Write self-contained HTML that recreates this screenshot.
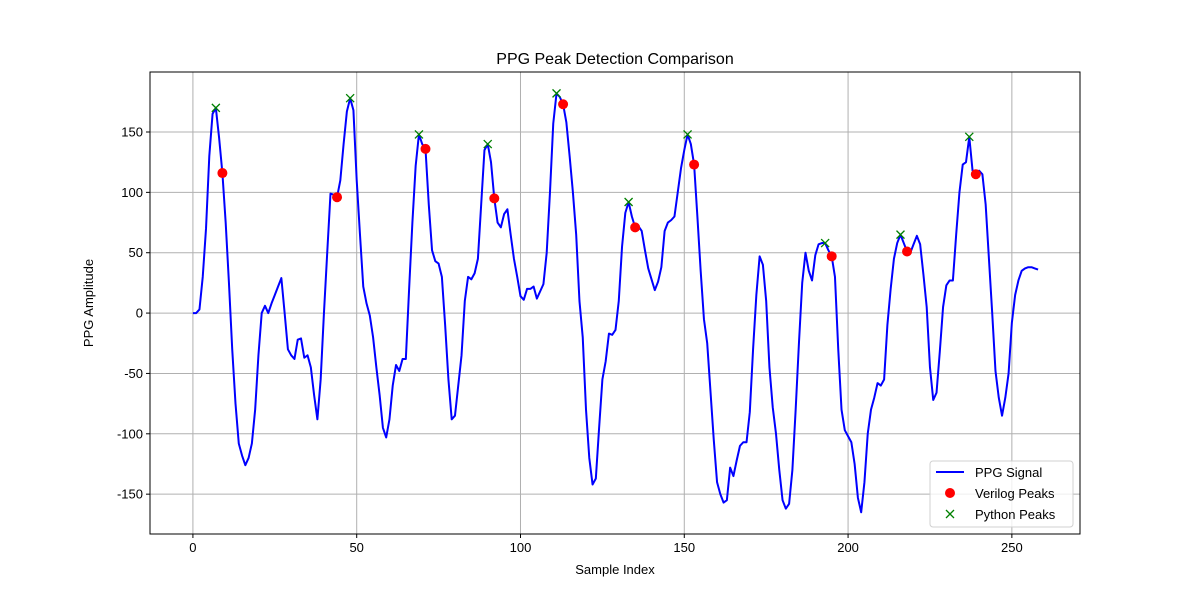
<!DOCTYPE html>
<html><head><meta charset="utf-8"><style>body{margin:0;background:#fff}svg{display:block;font-family:"Liberation Sans","DejaVu Sans",sans-serif}</style></head>
<body>
<svg id="chart" width="1200" height="600" xmlns="http://www.w3.org/2000/svg"></svg>
<script>
const signal=[0,0,3,30,70,130,165,170,145,116,75,25,-30,-75,-108,-118,-126,-120,-108,-80,-35,0,6,0,8,15,22,29,0,-30,-35,-38,-22,-21,-37,-35,-45,-68,-88,-55,0,50,99,98,96,110,140,167,178,168,110,65,22,8,-2,-20,-45,-68,-95,-103,-88,-60,-43,-48,-38,-38,20,75,122,148,140,136,90,52,43,41,30,-10,-55,-88,-85,-60,-35,10,30,28,33,45,90,135,140,125,95,75,71,82,86,65,45,30,14,11,20,20,22,12,18,24,50,100,157,182,179,173,158,130,100,65,10,-20,-80,-120,-142,-137,-95,-55,-40,-17,-18,-14,10,55,83,92,80,71,72,68,52,37,28,19,26,38,68,75,77,80,100,120,135,148,140,123,80,35,-5,-25,-65,-105,-140,-150,-157,-155,-128,-135,-122,-110,-107,-107,-82,-30,15,47,40,10,-45,-78,-100,-130,-155,-162,-158,-130,-80,-25,25,50,35,27,48,57,58,58,52,47,30,-30,-80,-97,-102,-107,-125,-153,-165,-140,-100,-80,-70,-58,-60,-55,-10,20,45,58,65,58,51,50,57,64,57,32,5,-45,-72,-66,-32,5,23,27,27,65,100,123,125,146,118,115,118,115,90,45,0,-48,-70,-85,-70,-50,-8,15,27,35,37,38,38,37,36];
const pythonPeaks=[7,48,69,90,111,133,151,193,216,237];
const verilogPeaks=[9,44,71,92,113,135,153,195,218,239];
const xTicks=[0,50,100,150,200,250];
const yTicks=[-150,-100,-50,0,50,100,150];
const L=150,R=1080,T=72,B=534,x0=-13.1,x1=270.8,y0=-183,y1=199.7;
const sx=v=>L+(v-x0)/(x1-x0)*(R-L), sy=v=>B-(v-y0)/(y1-y0)*(B-T);
const svg=document.getElementById('chart');const NS='http://www.w3.org/2000/svg';
function mk(t,a,p){const e=document.createElementNS(NS,t);for(const k in a)e.setAttribute(k,a[k]);(p||svg).appendChild(e);return e;}
const grid=mk('g',{});


xTicks.forEach(v=>{const x=sx(v);mk('line',{x1:x,x2:x,y1:T,y2:B,stroke:'#b0b0b0','stroke-width':1},grid);mk('line',{x1:x,x2:x,y1:B,y2:B+4,stroke:'#000'});
const t=mk('text',{x:x,y:B+18,'text-anchor':'middle','font-size':13});t.textContent=v;

});
yTicks.forEach(v=>{const y=sy(v);mk('line',{x1:L,x2:R,y1:y,y2:y,stroke:'#b0b0b0','stroke-width':1},grid);mk('line',{x1:L-4,x2:L,y1:y,y2:y,stroke:'#000'});
const t=mk('text',{x:L-7,y:y+4.5,'text-anchor':'end','font-size':13});t.textContent=v;

});
const line=mk('polyline',{points:signal.map((v,i)=>sx(i)+','+sy(v)).join(' '),fill:'none',stroke:'#0000ff','stroke-width':2,'stroke-linejoin':'round'});


verilogPeaks.forEach(i=>{const c=mk('circle',{cx:sx(i),cy:sy(signal[i]),r:5,fill:'#ff0000'});

});
pythonPeaks.forEach(i=>{const x=sx(i),y=sy(signal[i]);const g=mk('path',{d:`M${x-4},${y-4}L${x+4},${y+4}M${x-4},${y+4}L${x+4},${y-4}`,stroke:'#008000','stroke-width':1.3});

});
mk('rect',{x:L,y:T,width:R-L,height:B-T,fill:'none',stroke:'#000','stroke-width':1});
</script>
<svg width="1200" height="600" style="position:absolute;left:0;top:0" xmlns="http://www.w3.org/2000/svg">
<text x="615" y="64" text-anchor="middle" font-size="16">PPG Peak Detection Comparison</text>
<text x="615" y="574" text-anchor="middle" font-size="13">Sample Index</text>
<text x="93" y="303" text-anchor="middle" font-size="13" transform="rotate(-90 93 303)">PPG Amplitude</text>
<g>
<rect x="930" y="461" width="143" height="66" rx="3" fill="#fff" fill-opacity="0.8" stroke="#d0d0d0"/>
<line x1="936" y1="472" x2="964" y2="472" stroke="#0000ff" stroke-width="2"/>
<text x="975" y="477" font-size="13">PPG Signal</text>
<circle cx="950" cy="493" r="5" fill="#ff0000"/>
<text x="975" y="498" font-size="13">Verilog Peaks</text>
<path d="M946,510L954,518M946,518L954,510" stroke="#008000" stroke-width="1.3"/>
<text x="975" y="519" font-size="13">Python Peaks</text>
</g>
</svg>
</body></html>
